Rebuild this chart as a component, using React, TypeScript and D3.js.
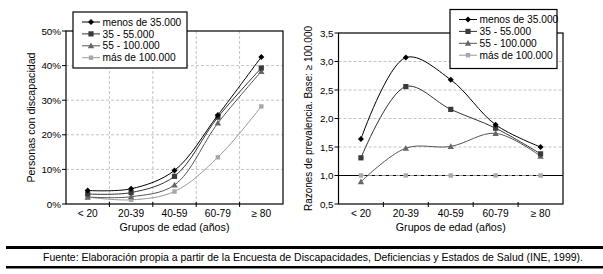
import React from "react";
import * as d3 from "d3";

const categories = ["< 20", "20-39", "40-59", "60-79", "≥ 80"];
const seriesNames = ["menos de 35.000", "35 - 55.000", "55 - 100.000", "más de 100.000"];

const pctMenos35 = [3.9, 4.4, 9.7, 25.7, 42.5];
const pct35a55 = [2.9, 3.3, 8.0, 25.1, 39.3];
const pct55a100 = [2.0, 2.1, 5.5, 23.4, 38.3];
const pctMas100 = [2.0, 1.2, 3.6, 13.5, 28.2];

const rzMenos35 = [1.64, 3.07, 2.68, 1.89, 1.5];
const rz35a55 = [1.31, 2.56, 2.16, 1.83, 1.38];
const rz55a100 = [0.89, 1.48, 1.51, 1.74, 1.34];
const rzMas100 = [1.0, 1.0, 1.0, 1.0, 1.0];

const pctTicks = [0, 10, 20, 30, 40, 50];
const rzTicks = [0.5, 1.0, 1.5, 2.0, 2.5, 3.0, 3.5];

const leftSeries = [pctMenos35, pct35a55, pct55a100, pctMas100];
const rightSeries = [rzMenos35, rz35a55, rz55a100, rzMas100];

const lineColors = ["#000000", "#333333", "#555555", "#9a9a9a"];
const markColors = ["#000000", "#3a3a3a", "#666666", "#a8a8a8"];
const FONT = "'Liberation Sans', Arial, Helvetica, sans-serif";

function Marker({ kind, x, y, color }: { kind: number; x: number; y: number; color: string }) {
  if (kind === 0) {
    const s = 3;
    return <path d={`M${x},${y - s}L${x + s},${y}L${x},${y + s}L${x - s},${y}Z`} fill={color} />;
  }
  if (kind === 1) return <rect x={x - 2.6} y={y - 2.6} width={5.2} height={5.2} fill={color} />;
  if (kind === 2) {
    const s = 3.2;
    return <path d={`M${x},${y - s}L${x + s},${y + s * 0.8}L${x - s},${y + s * 0.8}Z`} fill={color} />;
  }
  return <rect x={x - 2.2} y={y - 2.2} width={4.4} height={4.4} fill={color} />;
}

function Legend({ x, y, w, h }: { x: number; y: number; w: number; h: number }) {
  return (
    <g>
      <rect x={x} y={y} width={w} height={h} fill="#fff" stroke="#000" strokeWidth={1.2} />
      {seriesNames.map((n, i) => {
        const cy = y + 10 + i * 11.9;
        return (
          <g key={n}>
            <line x1={x + 9} x2={x + 27} y1={cy} y2={cy} stroke={lineColors[i]} strokeWidth={1} />
            <Marker kind={i} x={x + 18} y={cy} color={markColors[i]} />
            <text x={x + 29.5} y={cy + 3.6} fontSize={10.2} fontFamily={FONT} fill="#000">
              {n}
            </text>
          </g>
        );
      })}
    </g>
  );
}

function Chart({
  x0, x1, y0, y1, domain, ticks, data, fmt, vgrid, yLabel, labelX, legend, right,
}: any) {
  const band = d3.scaleBand<string>().domain(categories).range([x0, x1]).padding(0);
  const xs = d3.scalePoint<string>().domain(categories).range([x0, x1]).padding(0.5);
  const ys = d3.scaleLinear().domain(domain).range([y1, y0]);
  const line = d3
    .line<number>()
    .x((_, i) => xs(categories[i]) as number)
    .y((d) => ys(d))
    .curve(d3.curveCatmullRom.alpha(0.5));
  const bounds = categories.slice(1).map((c) => band(c) as number);
  return (
    <g>
      {ticks.slice(1, -1).map((t: number) =>
        right && t === 1.0 ? null : (
          <line key={t} x1={x0} x2={x1} y1={ys(t)} y2={ys(t)} stroke="#c4c4c4" strokeDasharray="3,2" />
        )
      )}
      {vgrid &&
        bounds.map((b) => (
          <line key={b} x1={b} x2={b} y1={y0} y2={y1} stroke="#c4c4c4" strokeDasharray="3,2" />
        ))}
      {right && <line x1={x0} x2={x1} y1={ys(1)} y2={ys(1)} stroke="#000" strokeWidth={1} />}
      <rect x={x0} y={y0} width={x1 - x0} height={y1 - y0} fill="none" stroke="#000" strokeWidth={1.2} />
      {bounds.map((b) => (
        <line key={"t" + b} x1={b} x2={b} y1={y1 - 2} y2={y1 + 3} stroke="#000" />
      ))}
      {ticks.map((t: number) => (
        <g key={"y" + t}>
          <line x1={x0 - 4} x2={x0} y1={ys(t)} y2={ys(t)} stroke="#000" />
          <text x={x0 - 5} y={ys(t) + 3.5} fontSize={9.8} fontFamily={FONT} textAnchor="end" fill="#000">
            {fmt(t)}
          </text>
        </g>
      ))}
      {categories.map((c) => (
        <text key={c} x={xs(c)} y={y1 + 12.5} fontSize={10.2} fontFamily={FONT} textAnchor="middle" fill="#000">
          {c}
        </text>
      ))}
      <text x={(x0 + x1) / 2} y={y1 + 27} fontSize={10.7} fontFamily={FONT} textAnchor="middle" fill="#000">
        Grupos de edad (años)
      </text>
      <text
        transform={`translate(${labelX},${(y0 + y1) / 2}) rotate(-90)`}
        fontSize={yLabel.size}
        fontFamily={FONT}
        textAnchor="middle"
        fill="#000"
        textLength={yLabel.len}
        lengthAdjust="spacingAndGlyphs"
      >
        {yLabel.text}
      </text>
      {data
        .map((vals: number[], i: number) => ({ vals, i }))
        .reverse()
        .map(({ vals, i }: any) => (
          <g key={i}>
            <path
              d={line(vals) as string}
              fill="none"
              stroke={lineColors[i]}
              strokeWidth={1}
              strokeDasharray={right && i === 3 ? "4,3" : undefined}
            />
            {vals.map((v: number, j: number) => (
              <Marker key={j} kind={i} x={xs(categories[j]) as number} y={ys(v)} color={markColors[i]} />
            ))}
          </g>
        ))}
      <Legend {...legend} />
    </g>
  );
}

export default function App() {
  return (
    <svg
      width={603}
      height={274}
      style={{ position: "absolute", left: 0, top: 0, background: "#fff" }}
    >
      <rect width={603} height={274} fill="#fff" />
      <Chart
        x0={66}
        x1={283}
        y0={31}
        y1={204}
        domain={[0, 50]}
        ticks={pctTicks}
        data={leftSeries}
        fmt={(t: number) => `${t}%`}
        vgrid={true}
        yLabel={{ text: "Personas con discapacidad", size: 10.6, len: 130 }}
        labelX={34.5}
        legend={{ x: 73, y: 12, w: 114, h: 56 }}
        right={false}
      />
      <Chart
        x0={338.5}
        x1={563}
        y0={33}
        y1={204}
        domain={[0.5, 3.5]}
        ticks={rzTicks}
        data={rightSeries}
        fmt={(t: number) => d3.format(".1f")(t).replace(".", ",")}
        vgrid={false}
        yLabel={{ text: "Razones de prevalencia. Base: ≥ 100.000", size: 10.2, len: 185 }}
        labelX={312}
        legend={{ x: 450, y: 9.5, w: 107, h: 59 }}
        right={true}
      />
      <rect x={6} y={246} width={597} height={3} fill="#000" />
      <text
        x={43}
        y={261}
        fontSize={10.3}
        fontFamily={FONT}
        fill="#000"
        textLength={540}
        lengthAdjust="spacingAndGlyphs"
      >
        Fuente: Elaboración propia a partir de la Encuesta de Discapacidades, Deficiencias y Estados de Salud (INE, 1999).
      </text>
      <rect x={6} y={266} width={597} height={2.5} fill="#000" />
    </svg>
  );
}
